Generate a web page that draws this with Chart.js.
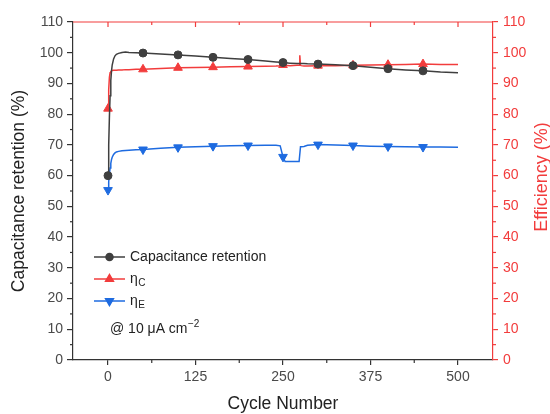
<!DOCTYPE html>
<html>
<head>
<meta charset="utf-8">
<script src="https://cdn.jsdelivr.net/npm/chart.js@4.4.1/dist/chart.umd.min.js"></script>
<style>
html,body{margin:0;padding:0;background:#fff;}
#wrap{width:550px;height:414px;}
</style>
</head>
<body>
<div id="wrap"><canvas id="c" width="550" height="414"></canvas></div>
<script>
// ---- data ----
const cycles      = [0,1,2,3,4,5,6,8,10,12,15,20,25,30,40,50,75,100,125,150,175,200,225,240,246,250,253,260,270,273,274,275,276,280,285,300,325,350,375,400,425,450,475,500];
const capacitance = [60,70,79,86,91,94,96,98,99,99.5,99.8,100.1,100.2,100.1,100,99.9,99.6,99.3,98.9,98.5,98.1,97.8,97.3,97,96.9,96.8,96.7,96.6,96.5,96.5,96.5,96.5,96.5,96.5,96.4,96.3,96.1,95.8,95.3,94.8,94.4,94.1,93.7,93.5];
const etaC        = [81.8,88,92,93.5,93.9,94.1,94.2,94.3,94.3,94.3,94.4,94.4,94.5,94.5,94.6,94.6,94.9,95.1,95.2,95.3,95.4,95.5,95.6,95.7,95.8,96,95.9,95.8,95.9,95.9,99.2,95.9,95.8,95.7,95.7,95.8,95.8,95.9,96,96.1,96.2,96.3,96.2,96.2];
const etaE        = [55.3,58,60.5,62.5,64,65.2,66,66.9,67.4,67.7,67.9,68.1,68.2,68.3,68.4,68.5,68.9,69.2,69.4,69.6,69.7,69.8,69.9,69.9,69.7,66.1,64.6,64.6,64.6,64.6,64.6,69.4,69.4,69.5,69.9,70.1,70,69.8,69.6,69.5,69.4,69.3,69.3,69.2];
const markerCycles = [0,50,100,150,200,250,300,350,400,450];
const xTicks = [0,125,250,375,500];
const yTicks = [0,10,20,30,40,50,60,70,80,90,100,110];

const GRAY = '#3f3f3f', RED = '#f23c3c', BLUE = '#1e6be0';
const AXIS = '#333333', LABEL = '#4a4a4a';
const FONT = "'Liberation Sans', Arial, sans-serif";

function pts(vals){ return cycles.map((c,i)=>({x:c,y:vals[i]})); }
function markerR(r){ return ctx => (ctx.raw && markerCycles.includes(ctx.raw.x)) ? r : 0; }

const decor = {
  id:'decor',
  afterDraw(chart){
    const {ctx, chartArea:{left,right,top,bottom}} = chart;
    const xs = chart.scales.x, ys = chart.scales.y;
    ctx.save();
    ctx.lineWidth = 1.2;
    // top axis (red) with inward ticks
    ctx.strokeStyle = RED;
    ctx.beginPath(); ctx.moveTo(left, top); ctx.lineTo(right, top); ctx.stroke();
    xTicks.forEach(v=>{ const px = xs.getPixelForValue(v); ctx.beginPath(); ctx.moveTo(px, top); ctx.lineTo(px, top+5); ctx.stroke(); });
    for (let i=0;i<xTicks.length-1;i++){ const px = xs.getPixelForValue((xTicks[i]+xTicks[i+1])/2); ctx.beginPath(); ctx.moveTo(px, top); ctx.lineTo(px, top+3); ctx.stroke(); }
    // right minor ticks
    for (let i=0;i<yTicks.length-1;i++){ const py = ys.getPixelForValue((yTicks[i]+yTicks[i+1])/2); ctx.beginPath(); ctx.moveTo(right, py); ctx.lineTo(right+3, py); ctx.stroke(); }
    // left minor ticks
    ctx.strokeStyle = AXIS;
    for (let i=0;i<yTicks.length-1;i++){ const py = ys.getPixelForValue((yTicks[i]+yTicks[i+1])/2); ctx.beginPath(); ctx.moveTo(left, py); ctx.lineTo(left-3, py); ctx.stroke(); }
    // bottom minor ticks
    for (let i=0;i<xTicks.length-1;i++){ const px = xs.getPixelForValue((xTicks[i]+xTicks[i+1])/2); ctx.beginPath(); ctx.moveTo(px, bottom); ctx.lineTo(px, bottom+3); ctx.stroke(); }

    // axis titles
    ctx.font = '17.5px ' + FONT;
    ctx.textAlign = 'center'; ctx.textBaseline = 'middle';
    ctx.fillStyle = '#222';
    ctx.fillText('Cycle Number', (left+right)/2, 404);
    ctx.save(); ctx.translate(19, (top+bottom)/2); ctx.rotate(-Math.PI/2); ctx.fillText('Capacitance retention (%)', 0, 0); ctx.restore();
    ctx.fillStyle = RED;
    ctx.font = '18px ' + FONT;
    ctx.save(); ctx.translate(542, 177); ctx.rotate(-Math.PI/2); ctx.fillText('Efficiency (%)', 0, 0); ctx.restore();

    // legend
    const rows = [
      {y:257, color:GRAY, style:'circle', rot:0, main:'Capacitance retention', sub:''},
      {y:279, color:RED, style:'triangle', rot:0, main:'\u03B7', sub:'C'},
      {y:301, color:BLUE, style:'triangle', rot:180, main:'\u03B7', sub:'E'}
    ];
    rows.forEach(r=>{
      ctx.strokeStyle = r.color; ctx.lineWidth = 1.5;
      ctx.beginPath(); ctx.moveTo(94, r.y); ctx.lineTo(125, r.y); ctx.stroke();
      ctx.fillStyle = r.color;
      Chart.helpers.drawPoint(ctx, {pointStyle:r.style, radius:r.style==='circle'?3.5:4.5, rotation:r.rot, borderWidth:1}, 109.5, r.y);
      ctx.fillStyle = '#222'; ctx.textAlign = 'left'; ctx.textBaseline = 'middle';
      ctx.font = '14px ' + FONT;
      ctx.fillText(r.main, 130, r.y);
      if (r.sub){
        const w = ctx.measureText(r.main).width;
        ctx.font = '10px ' + FONT;
        ctx.fillText(r.sub, 130 + w + 0.5, r.y + 4);
      }
    });
    ctx.font = '14px ' + FONT; ctx.fillStyle = '#222';
    const base = '@ 10 \u03BCA cm';
    ctx.fillText(base, 110, 329);
    const bw = ctx.measureText(base).width;
    ctx.font = '10px ' + FONT;
    ctx.fillText('\u22122', 110 + bw + 0.5, 324);
    ctx.restore();
  }
};

new Chart(document.getElementById('c'), {
  type:'line',
  data:{
    datasets:[
      {label:'Capacitance retention', data:pts(capacitance), yAxisID:'y', borderColor:GRAY, backgroundColor:GRAY, borderWidth:1.5,
       pointStyle:'circle', pointRadius:markerR(4), pointBorderWidth:1, tension:0},
      {label:'\u03B7C', data:pts(etaC), yAxisID:'y2', borderColor:RED, backgroundColor:RED, borderWidth:1.5,
       pointStyle:'triangle', pointRadius:markerR(5), pointBorderWidth:1, tension:0},
      {label:'\u03B7E', data:pts(etaE), yAxisID:'y2', borderColor:BLUE, backgroundColor:BLUE, borderWidth:1.5,
       pointStyle:'triangle', pointRotation:180, pointRadius:markerR(5), pointBorderWidth:1, tension:0}
    ]
  },
  options:{
    responsive:false, animation:false, devicePixelRatio:1,
    layout:{padding:{top:22, left:0, right:0, bottom:0}},
    plugins:{legend:{display:false}, tooltip:{enabled:false}},
    scales:{
      x:{type:'linear', position:'bottom', min:-50, max:550,
         afterBuildTicks(s){ s.ticks = xTicks.map(v=>({value:v})); },
         afterFit(s){ s.height = 54; },
         grid:{drawOnChartArea:false, drawTicks:true, tickLength:5, color:AXIS, lineWidth:1.2},
         border:{color:AXIS, width:1.2},
         ticks:{color:LABEL, font:{family:FONT, size:14}, padding:4, maxRotation:0}},
      y:{type:'linear', position:'left', min:0, max:110,
         afterBuildTicks(s){ s.ticks = yTicks.map(v=>({value:v})); },
         afterFit(s){ s.width = 73; },
         grid:{drawOnChartArea:false, drawTicks:true, tickLength:6, color:AXIS, lineWidth:1.2},
         border:{color:AXIS, width:1.2},
         ticks:{color:LABEL, font:{family:FONT, size:14}, padding:4}},
      y2:{type:'linear', position:'right', min:0, max:110,
         afterBuildTicks(s){ s.ticks = yTicks.map(v=>({value:v})); },
         afterFit(s){ s.width = 57; },
         grid:{drawOnChartArea:false, drawTicks:true, tickLength:5, color:RED, lineWidth:1.2},
         border:{color:RED, width:1.2},
         ticks:{color:RED, font:{family:FONT, size:14}, padding:5}}
    }
  },
  plugins:[decor]
});
</script>
</body>
</html>
